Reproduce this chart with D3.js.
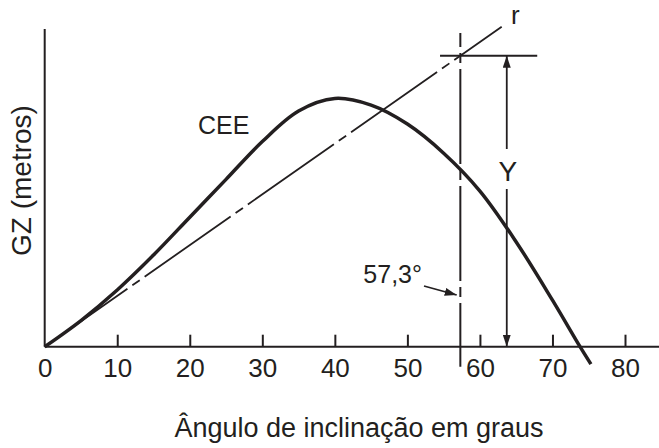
<!DOCTYPE html>
<html>
<head>
<meta charset="utf-8">
<script src="https://cdn.jsdelivr.net/npm/d3@7"></script>
<style>
  body { margin: 0; background: #fff; }
  text { font-family: "Liberation Sans", Arial, Helvetica, sans-serif; fill: #231f20; }
</style>
</head>
<body>
<div id="container"></div>
<script>
const width = 659;
const height = 448;

// curva CEE: ângulo (graus) x GZ (m, relativo a GM = 1)
const angles = [0, 5, 10, 15, 20, 25, 30, 35, 40, 45, 50, 55, 60, 65, 70, 73.8, 75.3];
const gzValues = [0, 0.09, 0.195, 0.315, 0.445, 0.575, 0.705, 0.81, 0.853, 0.83, 0.765, 0.665, 0.535, 0.36, 0.16, 0, -0.06];
const xTicks = [0, 10, 20, 30, 40, 50, 60, 70, 80];

const radDeg = 57.3;     // 1 rad
const gm = 1.0;          // GZ da reta r em 57,3°
const rEndDeg = 63.0;    // fim da reta r
const yArrowDeg = 63.7;  // posição da cota Y
const hLineDeg = [54.5, 67.9];
const vLineGz = [-0.069, 1.078];

const margin = {left: 44.7, right: 625, top: 55.7, bottom: 346.7};
const ink = "#231f20";

const x = d3.scaleLinear().domain([0, 80]).range([margin.left, margin.right]);
const y = d3.scaleLinear().domain([0, gm]).range([margin.bottom, margin.top]);

const svg = d3.select("#container")
              .append("svg")
              .attr("width", width)
              .attr("height", height);

const defs = svg.append("defs");
defs.append("marker")
    .attr("id", "arrow")
    .attr("viewBox", "0 0 12 8")
    .attr("refX", 12)
    .attr("refY", 4)
    .attr("markerWidth", 12)
    .attr("markerHeight", 8)
    .attr("markerUnits", "userSpaceOnUse")
    .attr("orient", "auto")
    .append("path")
    .attr("d", "M0,0 L12,4 L0,8 Z")
    .attr("fill", ink);

// eixos
svg.append("line")
   .attr("x1", x(0)).attr("x2", width)
   .attr("y1", y(0)).attr("y2", y(0))
   .attr("stroke", ink).attr("stroke-width", 2);
svg.append("line")
   .attr("x1", x(0)).attr("x2", x(0))
   .attr("y1", y(0)).attr("y2", 29)
   .attr("stroke", ink).attr("stroke-width", 2);

const xAxis = d3.axisBottom(x)
                .tickValues(xTicks)
                .tickSizeInner(-12)
                .tickSizeOuter(0)
                .tickFormat(d3.format("d"));
const gx = svg.append("g")
              .attr("transform", "translate(0," + y(0) + ")")
              .call(xAxis);
gx.select(".domain").remove();
gx.selectAll(".tick line").filter(d => d === 0).remove();
gx.selectAll(".tick line").attr("stroke", ink).attr("stroke-width", 2);
gx.selectAll(".tick text")
  .attr("y", 30)
  .attr("dy", null)
  .attr("font-size", 26)
  .attr("font-family", "Liberation Sans, Arial, sans-serif")
  .attr("fill", ink);

// reta r (tangente na origem)
svg.append("line")
   .attr("x1", x(0)).attr("y1", y(0))
   .attr("x2", x(rEndDeg)).attr("y2", y(gm * rEndDeg / radDeg))
   .attr("stroke", ink).attr("stroke-width", 1.8)
   .attr("stroke-dasharray", "105,6,9,6")
   .attr("stroke-dashoffset", 4);

// vertical em 57,3°
svg.append("line")
   .attr("x1", x(radDeg)).attr("x2", x(radDeg))
   .attr("y1", y(vLineGz[1])).attr("y2", y(vLineGz[0]))
   .attr("stroke", ink).attr("stroke-width", 2)
   .attr("stroke-dasharray", "95,6,10,6")
   .attr("stroke-dashoffset", 81);

// horizontal no topo de Y
svg.append("line")
   .attr("x1", x(hLineDeg[0])).attr("x2", x(hLineDeg[1]))
   .attr("y1", y(gm)).attr("y2", y(gm))
   .attr("stroke", ink).attr("stroke-width", 2);

// cota Y
svg.append("line")
   .attr("x1", x(yArrowDeg)).attr("x2", x(yArrowDeg))
   .attr("y1", 149).attr("y2", y(gm))
   .attr("stroke", ink).attr("stroke-width", 1.8)
   .attr("marker-end", "url(#arrow)");
svg.append("line")
   .attr("x1", x(yArrowDeg)).attr("x2", x(yArrowDeg))
   .attr("y1", 189).attr("y2", y(0))
   .attr("stroke", ink).attr("stroke-width", 1.8)
   .attr("marker-end", "url(#arrow)");
svg.append("text")
   .attr("x", x(yArrowDeg) + 1)
   .attr("y", 180.7)
   .attr("text-anchor", "middle")
   .attr("font-size", 28)
   .text("Y");

// curva CEE
const line = d3.line()
               .x((d, i) => x(angles[i]))
               .y(d => y(d))
               .curve(d3.curveCatmullRom);
svg.append("path")
   .datum(gzValues)
   .attr("d", line)
   .attr("fill", "none")
   .attr("stroke", ink)
   .attr("stroke-width", 3.5);

// rótulos
svg.append("text")
   .attr("x", 198).attr("y", 134)
   .attr("font-size", 25)
   .text("CEE");
svg.append("text")
   .attr("x", 511).attr("y", 24)
   .attr("font-size", 26)
   .text("r");
svg.append("text")
   .attr("x", 422).attr("y", 283.3)
   .attr("text-anchor", "end")
   .attr("font-size", 25)
   .text("57,3°");
svg.append("line")
   .attr("x1", 424).attr("y1", 286)
   .attr("x2", 456.7).attr("y2", 295)
   .attr("stroke", ink).attr("stroke-width", 1.8)
   .attr("marker-end", "url(#arrow)");

svg.append("text")
   .attr("x", 359).attr("y", 436.7)
   .attr("text-anchor", "middle")
   .attr("font-size", 27)
   .text("Ângulo de inclinação em graus");
svg.append("text")
   .attr("transform", "translate(31," + 180.5 + ") rotate(-90)")
   .attr("text-anchor", "middle")
   .attr("font-size", 28)
   .text("GZ (metros)");
</script>
</body>
</html>
